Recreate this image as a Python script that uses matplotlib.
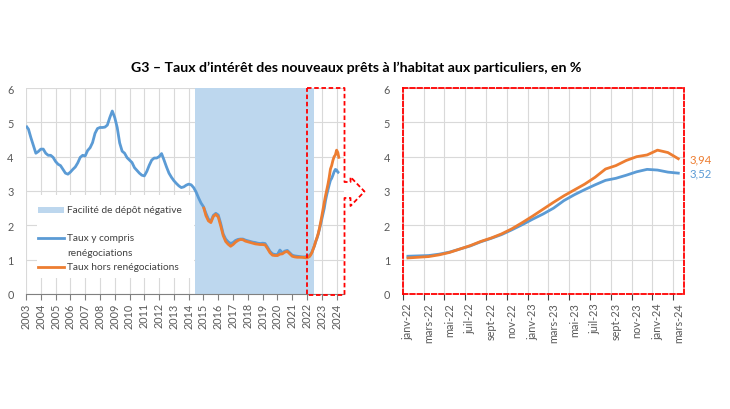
import numpy as np
import matplotlib
matplotlib.use('Agg')
import matplotlib.pyplot as plt
from matplotlib.lines import Line2D
from matplotlib.patches import Rectangle

plt.rcParams['font.family'] = ['Lato', 'DejaVu Sans']

# ---------------- data ----------------
title = "G3 – Taux d’intérêt des nouveaux prêts à l’habitat aux particuliers, en %"

# bi-monthly readings (Jan, Mar, May, Jul, Sep, Nov), 2003-2021, incl. renegotiations
hist_start_year = 2003
hist_blue = [
    4.90, 4.80, 4.55, 4.32, 4.10, 4.15,   # 2003
    4.22, 4.22, 4.10, 4.04, 4.04, 3.98,   # 2004
    3.86, 3.78, 3.74, 3.63, 3.52, 3.49,   # 2005
    3.55, 3.63, 3.70, 3.82, 3.98, 4.04,   # 2006
    4.02, 4.18, 4.26, 4.41, 4.68, 4.82,   # 2007
    4.85, 4.85, 4.86, 4.92, 5.14, 5.33,   # 2008
    5.14, 4.85, 4.40, 4.16, 4.10, 3.97,   # 2009
    3.90, 3.83, 3.68, 3.60, 3.52, 3.46,   # 2010
    3.44, 3.57, 3.75, 3.90, 3.96, 3.96,   # 2011
    4.00, 4.09, 3.90, 3.70, 3.52, 3.40,   # 2012
    3.30, 3.22, 3.15, 3.10, 3.12, 3.17,   # 2013
    3.20, 3.18, 3.10, 2.97, 2.80, 2.65,   # 2014
    2.54, 2.35, 2.18, 2.12, 2.29, 2.35,   # 2015
    2.30, 2.05, 1.75, 1.60, 1.52, 1.47,   # 2016
    1.50, 1.56, 1.59, 1.60, 1.60, 1.57,   # 2017
    1.55, 1.53, 1.51, 1.50, 1.48, 1.47,   # 2018
    1.48, 1.47, 1.36, 1.24, 1.17, 1.15,   # 2019
    1.15, 1.28, 1.20, 1.25, 1.27, 1.20,   # 2020
    1.13, 1.11, 1.10, 1.09, 1.08, 1.08,   # 2021
]
# excluding renegotiations, bi-monthly from Jan 2015 to Nov 2021
orange_start_year = 2015
hist_orange = [
    2.54, 2.28, 2.13, 2.08, 2.26, 2.32,   # 2015
    2.24, 1.98, 1.70, 1.53, 1.45, 1.39,   # 2016
    1.44, 1.51, 1.56, 1.59, 1.58, 1.54,   # 2017
    1.52, 1.50, 1.48, 1.46, 1.45, 1.44,   # 2018
    1.44, 1.43, 1.32, 1.20, 1.13, 1.12,   # 2019
    1.12, 1.16, 1.17, 1.22, 1.24, 1.17,   # 2020
    1.10, 1.08, 1.07, 1.07, 1.07, 1.06,   # 2021
]

# monthly Jan 2022 - Mar 2024
recent_blue = [1.10, 1.11, 1.12, 1.16, 1.22, 1.31, 1.40, 1.52, 1.62, 1.73,
               1.87, 2.02, 2.18, 2.33, 2.50, 2.72, 2.89, 3.04, 3.18, 3.31,
               3.37, 3.46, 3.56, 3.63, 3.61, 3.55, 3.52]
recent_orange = [1.05, 1.07, 1.09, 1.14, 1.21, 1.31, 1.41, 1.53, 1.63, 1.75,
                 1.90, 2.08, 2.27, 2.47, 2.67, 2.86, 3.03, 3.20, 3.40, 3.64,
                 3.74, 3.89, 4.00, 4.05, 4.19, 4.12, 3.94]
month_labels = ["janv-22", "mars-22", "mai-22", "juil-22", "sept-22", "nov-22",
                "janv-23", "mars-23", "mai-23", "juil-23", "sept-23", "nov-23",
                "janv-24", "mars-24"]
year_labels = list(range(2003, 2025))
neg_rate_start = 2014 + 5 / 12   # June 2014
neg_rate_end = 2022 + 6 / 12     # July 2022
zoom_start = 2022

legend_labels = ["Facilité de dépôt négative", "Taux y compris", "renégociations",
                 "Taux hors renégociations"]

# ---------------- styles ----------------
BLUE = '#5B9BD5'
ORANGE = '#ED7D31'
SHADE = '#BDD7EE'
GRID = '#D9D9D9'
TXT = '#595959'
RED = '#FF0000'
W, H = 730, 410

fig = plt.figure(figsize=(7.3, 4.1), dpi=100)


def fx(px):
    return px / W


def fy(py):
    return 1 - py / H


# ---------------- left panel ----------------
L0, L1, T, B = 26, 344, 89, 295
ax1 = fig.add_axes([fx(L0), fy(B), fx(L1 - L0), (B - T) / H])
hx = hist_start_year + np.arange(len(hist_blue)) * 2 / 12
rx = 2022 + np.arange(len(recent_blue)) / 12
ox = orange_start_year + np.arange(len(hist_orange)) * 2 / 12
blue_x = np.concatenate([hx, rx])
blue_y = np.concatenate([hist_blue, recent_blue])
or_x = np.concatenate([ox, rx])
or_y = np.concatenate([hist_orange, recent_orange])

ax1.axvspan(neg_rate_start, neg_rate_end, color=SHADE, zorder=1, lw=0)
ax1.plot(blue_x, blue_y, color=BLUE, lw=2.0, zorder=3, solid_capstyle='butt')
ax1.plot(or_x, or_y, color=ORANGE, lw=2.0, zorder=4, solid_capstyle='butt')
ax1.set_xlim(2003, 2024.5)
ax1.set_ylim(0, 6)
ax1.set_xticks(year_labels)
ax1.set_xticklabels([str(y) for y in year_labels], rotation=90)
ax1.set_yticks(range(7))
ax1.grid(True, color=GRID, lw=0.8)
ax1.set_axisbelow(True)
for s in ['top', 'right', 'left']:
    ax1.spines[s].set_visible(False)
ax1.spines['bottom'].set_color('#808080')
ax1.spines['bottom'].set_zorder(5)
ax1.tick_params(axis='x', direction='out', length=4, color='#808080',
                labelsize=7.8, labelcolor=TXT, pad=2)
ax1.tick_params(axis='y', length=0, labelsize=7.8, labelcolor=TXT, pad=9)

# legend (manual, Excel-like)
fig.add_artist(Rectangle((fx(37), fy(279)), fx(194 - 37), (279 - 196) / H,
                         transform=fig.transFigure, facecolor='white',
                         edgecolor='none', zorder=2.5))
fig.add_artist(Rectangle((fx(38), fy(214)), fx(26), 6 / H, transform=fig.transFigure,
                         facecolor=SHADE, edgecolor='none', zorder=3))
fig.add_artist(Line2D([fx(38), fx(64)], [fy(239), fy(239)], color=BLUE, lw=2,
                      transform=fig.transFigure, zorder=3))
fig.add_artist(Line2D([fx(38), fx(64)], [fy(268), fy(268)], color=ORANGE, lw=2,
                      transform=fig.transFigure, zorder=3))
for lab, py in zip(legend_labels, [211, 239, 253, 268]):
    fig.text(fx(67), fy(py), lab, ha='left', va='center', fontsize=7.3,
             color='#404040', zorder=4)

# red dashed zoom frame with arrow
pts = [(307, 89), (344.5, 89), (344.5, 183), (350.5, 183), (350.5, 178),
       (364.5, 192.5), (350.5, 207), (350.5, 199), (344.5, 199), (344.5, 296),
       (307, 296), (307, 89)]
fig.add_artist(Line2D([fx(p[0]) for p in pts], [fy(p[1]) for p in pts],
                      color=RED, lw=1.3, ls=(0, (2.5, 1.5)),
                      transform=fig.transFigure, zorder=6))

# ---------------- right panel ----------------
R0, R1 = 402.7, 683.5
ax2 = fig.add_axes([fx(R0), fy(B), fx(R1 - R0), (B - T) / H])
n = len(recent_blue)
mx = np.arange(n) + 0.5
ax2.plot(mx, recent_blue, color=BLUE, lw=2.0, zorder=3)
ax2.plot(mx, recent_orange, color=ORANGE, lw=2.0, zorder=4)
ax2.set_xlim(0, n)
ax2.set_ylim(0, 6)
ax2.set_xticks(np.arange(0, n, 2))
ax2.set_xticklabels([])
ax2.set_xticks(np.arange(0, n, 2) + 0.5, minor=True)
ax2.set_xticklabels(month_labels, minor=True, rotation=90)
ax2.set_yticks(range(7))
ax2.grid(True, which='major', color=GRID, lw=0.8)
ax2.set_axisbelow(True)
for s in ax2.spines.values():
    s.set_color(RED)
    s.set_linestyle((0, (2.5, 1.5)))
    s.set_linewidth(1.3)
    s.set_zorder(6)
ax2.tick_params(axis='x', which='major', direction='out', length=4, color='#404040')
ax2.tick_params(axis='x', which='minor', length=0, labelsize=7.8, labelcolor=TXT, pad=6)
ax2.tick_params(axis='y', length=0, labelsize=7.8, labelcolor=TXT, pad=9)

for vals, col in [(recent_orange, ORANGE), (recent_blue, BLUE)]:
    ax2.annotate(f"{vals[-1]:.2f}".replace('.', ','), xy=(mx[-1], vals[-1]),
                 xytext=(8, 0), textcoords='offset points', ha='left',
                 va='center', color=col, fontsize=8.2, annotation_clip=False)

fig.text(fx(356), fy(68), title, ha='center', va='center', fontsize=10.2,
         fontweight='bold', color='#000000')

fig.savefig('out.png', dpi=100)
